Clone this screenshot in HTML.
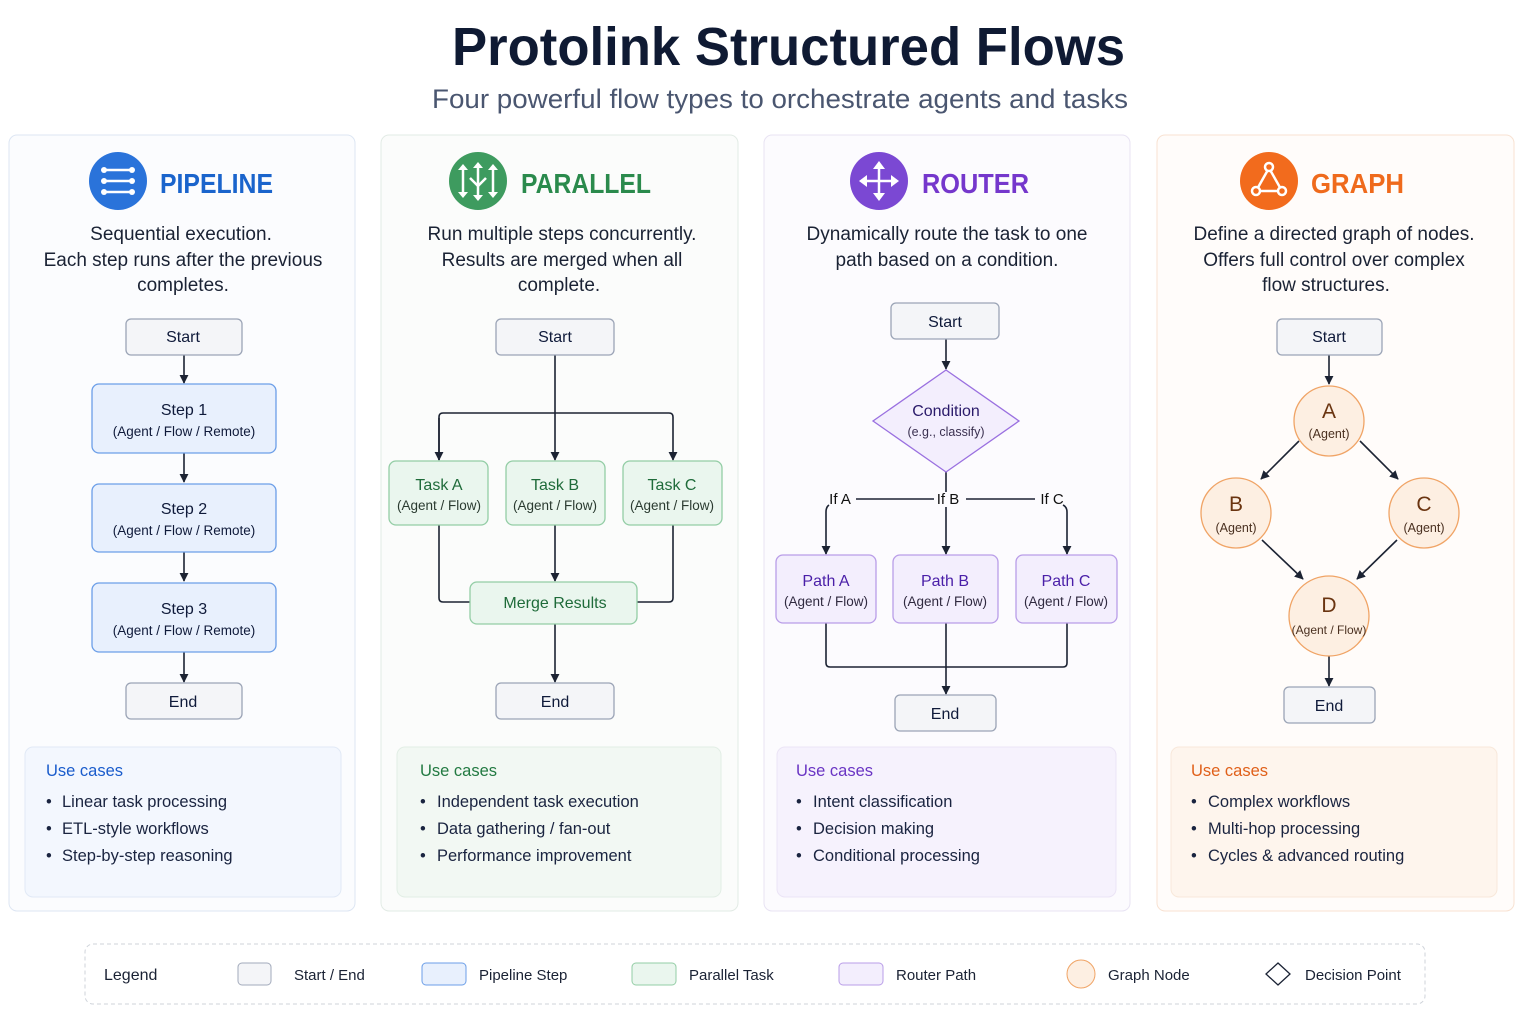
<!DOCTYPE html>
<html><head><meta charset="utf-8"><style>
html,body{margin:0;padding:0;background:#fff;}
svg{display:block;font-family:"Liberation Sans",sans-serif;}
</style></head><body>
<svg width="1536" height="1024" viewBox="0 0 1536 1024" xmlns="http://www.w3.org/2000/svg">
<defs>
<marker id="ar" viewBox="0 0 10 10" refX="9" refY="5" markerWidth="9" markerHeight="9" markerUnits="userSpaceOnUse" orient="auto"><path d="M0,0 L10,5 L0,10 z" fill="#1c2333"/></marker>
</defs>
<rect width="1536" height="1024" fill="#fff"/>
<text x="452" y="65" font-size="54" font-weight="bold" fill="#0f1a33" textLength="673" lengthAdjust="spacingAndGlyphs">Protolink Structured Flows</text>
<text x="432" y="108" font-size="27" fill="#4a5670" textLength="696" lengthAdjust="spacingAndGlyphs">Four powerful flow types to orchestrate agents and tasks</text>

<!-- panels -->
<rect x="9" y="135" width="346" height="776" rx="8" fill="#fbfcfe" stroke="#dde6f3"/>
<rect x="381" y="135" width="357" height="776" rx="8" fill="#fbfcfb" stroke="#e2ebe5"/>
<rect x="764" y="135" width="366" height="776" rx="8" fill="#fcfbfe" stroke="#e8e3f3"/>
<rect x="1157" y="135" width="357" height="776" rx="8" fill="#fffcfa" stroke="#f8e2d2"/>

<!-- headers -->
<circle cx="118" cy="181" r="29" fill="#2a73da"/>
<g stroke="#fff" stroke-width="2.5" stroke-linecap="round"><line x1="105" y1="170" x2="131" y2="170"/><line x1="105" y1="181" x2="131" y2="181"/><line x1="105" y1="192" x2="131" y2="192"/></g>
<g fill="#fff"><circle cx="104" cy="170" r="3"/><circle cx="132" cy="170" r="3"/><circle cx="104" cy="181" r="3"/><circle cx="132" cy="181" r="3"/><circle cx="104" cy="192" r="3"/><circle cx="132" cy="192" r="3"/></g>
<text x="160" y="193" font-size="28" font-weight="bold" fill="#1a64cc" textLength="113" lengthAdjust="spacingAndGlyphs">PIPELINE</text>

<circle cx="478" cy="181" r="29" fill="#3e9b5f"/>
<g stroke="#fff" stroke-width="2.5" fill="none"><line x1="463" y1="167" x2="463" y2="195"/><line x1="478" y1="165" x2="478" y2="198"/><line x1="493" y1="167" x2="493" y2="195"/><path d="M470,178 L478,186 L486,178"/></g>
<g fill="#fff"><path d="M458,170 L463,164 L468,170z"/><path d="M458,192 L463,198 L468,192z"/><path d="M473,168 L478,162 L483,168z"/><path d="M473,195 L478,201 L483,195z"/><path d="M488,170 L493,164 L498,170z"/><path d="M488,192 L493,198 L498,192z"/></g>
<text x="521" y="193" font-size="28" font-weight="bold" fill="#2a8a4c" textLength="130" lengthAdjust="spacingAndGlyphs">PARALLEL</text>

<circle cx="879" cy="181" r="29" fill="#7b48d3"/>
<g stroke="#fff" stroke-width="2.5"><line x1="879" y1="166" x2="879" y2="196"/><line x1="864" y1="181" x2="894" y2="181"/></g>
<g fill="#fff"><path d="M873,169 L879,161 L885,169z"/><path d="M873,193 L879,201 L885,193z"/><path d="M867,175 L859,181 L867,187z"/><path d="M891,175 L899,181 L891,187z"/></g>
<text x="922" y="193" font-size="28" font-weight="bold" fill="#7537cc" textLength="107" lengthAdjust="spacingAndGlyphs">ROUTER</text>

<circle cx="1269" cy="181" r="29" fill="#f26b1d"/>
<g stroke="#fff" stroke-width="2.5" fill="none"><path d="M1269,168 L1256,191 L1282,191 Z"/></g>
<g fill="#f26b1d" stroke="#fff" stroke-width="2.5"><circle cx="1269" cy="167" r="4"/><circle cx="1256" cy="191" r="4"/><circle cx="1282" cy="191" r="4"/></g>
<text x="1311" y="193" font-size="28" font-weight="bold" fill="#ef6a1c" textLength="93" lengthAdjust="spacingAndGlyphs">GRAPH</text>

<!-- descriptions -->
<g font-size="19" fill="#1a2234" text-anchor="middle">
<text x="181" y="240">Sequential execution.</text>
<text x="183" y="266">Each step runs after the previous</text>
<text x="183" y="291">completes.</text>
<text x="562" y="240">Run multiple steps concurrently.</text>
<text x="562" y="266">Results are merged when all</text>
<text x="559" y="291">complete.</text>
<text x="947" y="240">Dynamically route the task to one</text>
<text x="947" y="266">path based on a condition.</text>
<text x="1334" y="240">Define a directed graph of nodes.</text>
<text x="1334" y="266">Offers full control over complex</text>
<text x="1326" y="291">flow structures.</text>
</g>

<!-- Pipeline -->
<g stroke="#1c2333" stroke-width="1.6" fill="none" marker-end="url(#ar)">
<line x1="184" y1="355" x2="184" y2="383"/>
<line x1="184" y1="453" x2="184" y2="482"/>
<line x1="184" y1="552" x2="184" y2="581"/>
<line x1="184" y1="652" x2="184" y2="682"/>
</g>
<g stroke-width="1.3">
<rect x="126" y="319" width="116" height="36" rx="5" fill="#f4f5f8" stroke="#9ba4b6"/>
<rect x="92" y="384" width="184" height="69" rx="7" fill="#e8f0fd" stroke="#6b9ee8"/>
<rect x="92" y="484" width="184" height="68" rx="7" fill="#e8f0fd" stroke="#6b9ee8"/>
<rect x="92" y="583" width="184" height="69" rx="7" fill="#e8f0fd" stroke="#6b9ee8"/>
<rect x="126" y="683" width="116" height="36" rx="5" fill="#f4f5f8" stroke="#9ba4b6"/>
</g>
<g text-anchor="middle" fill="#0f1a3a">
<text x="183" y="342" font-size="16">Start</text>
<text x="184" y="415" font-size="16">Step 1</text><text x="184" y="436" font-size="13.5">(Agent / Flow / Remote)</text>
<text x="184" y="514" font-size="16">Step 2</text><text x="184" y="535" font-size="13.5">(Agent / Flow / Remote)</text>
<text x="184" y="614" font-size="16">Step 3</text><text x="184" y="635" font-size="13.5">(Agent / Flow / Remote)</text>
<text x="183" y="707" font-size="16">End</text>
</g>

<!-- Parallel -->
<g stroke="#1c2333" stroke-width="1.6" fill="none">
<line x1="555" y1="355" x2="555" y2="413"/>
<path d="M439,460 L439,417 Q439,413 443,413 L669,413 Q673,413 673,417 L673,460" marker-end="url(#ar)"/>
<line x1="439" y1="418" x2="439" y2="460" marker-end="url(#ar)"/>
<line x1="555" y1="413" x2="555" y2="460" marker-end="url(#ar)"/>
<path d="M439,525 L439,598 Q439,602 443,602 L470,602"/>
<path d="M673,525 L673,598 Q673,602 669,602 L637,602"/>
<line x1="555" y1="525" x2="555" y2="581" marker-end="url(#ar)"/>
<line x1="555" y1="624" x2="555" y2="682" marker-end="url(#ar)"/>
</g>
<g stroke-width="1.3">
<rect x="496" y="319" width="118" height="36" rx="5" fill="#f4f5f8" stroke="#9ba4b6"/>
<rect x="389" y="461" width="99" height="64" rx="7" fill="#eaf6ee" stroke="#93cda5"/>
<rect x="506" y="461" width="99" height="64" rx="7" fill="#eaf6ee" stroke="#93cda5"/>
<rect x="623" y="461" width="99" height="64" rx="7" fill="#eaf6ee" stroke="#93cda5"/>
<rect x="470" y="582" width="167" height="42" rx="7" fill="#eaf6ee" stroke="#93cda5"/>
<rect x="496" y="683" width="118" height="36" rx="5" fill="#f4f5f8" stroke="#9ba4b6"/>
</g>
<g text-anchor="middle">
<text x="555" y="342" font-size="16" fill="#0f1a3a">Start</text>
<text x="439" y="490" font-size="16" fill="#1f6b3a">Task A</text><text x="439" y="510" font-size="13.5" fill="#2a3a30">(Agent / Flow)</text>
<text x="555" y="490" font-size="16" fill="#1f6b3a">Task B</text><text x="555" y="510" font-size="13.5" fill="#2a3a30">(Agent / Flow)</text>
<text x="672" y="490" font-size="16" fill="#1f6b3a">Task C</text><text x="672" y="510" font-size="13.5" fill="#2a3a30">(Agent / Flow)</text>
<text x="555" y="608" font-size="16" fill="#1f6b3a">Merge Results</text>
<text x="555" y="707" font-size="16" fill="#0f1a3a">End</text>
</g>

<!-- Router -->
<g stroke="#1c2333" stroke-width="1.6" fill="none">
<line x1="946" y1="339" x2="946" y2="369" marker-end="url(#ar)"/>
<line x1="946" y1="472" x2="946" y2="492"/>
<line x1="856" y1="499" x2="934" y2="499"/>
<line x1="966" y1="499" x2="1035" y2="499"/>
<path d="M829,505 Q826,507 826,512 L826,554" marker-end="url(#ar)"/>
<line x1="946" y1="507" x2="946" y2="554" marker-end="url(#ar)"/>
<path d="M1063,505 Q1067,507 1067,512 L1067,554" marker-end="url(#ar)"/>
<path d="M826,623 L826,663 Q826,667 830,667 L1063,667 Q1067,667 1067,663 L1067,623"/>
<line x1="946" y1="623" x2="946" y2="694" marker-end="url(#ar)"/>
</g>
<g stroke-width="1.3">
<rect x="891" y="303" width="108" height="36" rx="5" fill="#f4f5f8" stroke="#9ba4b6"/>
<polygon points="946,370 1019,421 946,472 873,421" fill="#f3eefd" stroke="#9a70e0"/>
<rect x="776" y="555" width="100" height="68" rx="7" fill="#f3eefd" stroke="#b99de8"/>
<rect x="893" y="555" width="105" height="68" rx="7" fill="#f3eefd" stroke="#b99de8"/>
<rect x="1016" y="555" width="101" height="68" rx="7" fill="#f3eefd" stroke="#b99de8"/>
<rect x="895" y="695" width="101" height="36" rx="5" fill="#f4f5f8" stroke="#9ba4b6"/>
</g>
<g text-anchor="middle">
<text x="945" y="327" font-size="16" fill="#0f1a3a">Start</text>
<text x="946" y="416" font-size="16" fill="#2a1a6a">Condition</text><text x="946" y="436" font-size="12.5" fill="#3a3050">(e.g., classify)</text>
<text x="840" y="504" font-size="15" fill="#111">If A</text>
<text x="948" y="504" font-size="15" fill="#111">If B</text>
<text x="1052" y="504" font-size="15" fill="#111">If C</text>
<text x="826" y="586" font-size="16" fill="#4a1fa8">Path A</text><text x="826" y="606" font-size="13.5" fill="#302a40">(Agent / Flow)</text>
<text x="945" y="586" font-size="16" fill="#4a1fa8">Path B</text><text x="945" y="606" font-size="13.5" fill="#302a40">(Agent / Flow)</text>
<text x="1066" y="586" font-size="16" fill="#4a1fa8">Path C</text><text x="1066" y="606" font-size="13.5" fill="#302a40">(Agent / Flow)</text>
<text x="945" y="719" font-size="16" fill="#0f1a3a">End</text>
</g>

<!-- Graph -->
<g stroke="#1c2333" stroke-width="1.6" fill="none" marker-end="url(#ar)">
<line x1="1329" y1="355" x2="1329" y2="384"/>
<line x1="1299" y1="441" x2="1261" y2="479"/>
<line x1="1360" y1="441" x2="1398" y2="479"/>
<line x1="1262" y1="540" x2="1303" y2="579"/>
<line x1="1397" y1="540" x2="1357" y2="579"/>
<line x1="1329" y1="655" x2="1329" y2="686"/>
</g>
<g stroke-width="1.3">
<rect x="1277" y="319" width="105" height="36" rx="5" fill="#f4f5f8" stroke="#9ba4b6"/>
<circle cx="1329" cy="421" r="35" fill="#fdefe2" stroke="#f0a466"/>
<circle cx="1236" cy="513" r="35" fill="#fdefe2" stroke="#f0a466"/>
<circle cx="1424" cy="513" r="35" fill="#fdefe2" stroke="#f0a466"/>
<circle cx="1329" cy="616" r="40" fill="#fdefe2" stroke="#f0a466"/>
<rect x="1284" y="687" width="91" height="36" rx="5" fill="#f4f5f8" stroke="#9ba4b6"/>
</g>
<g text-anchor="middle">
<text x="1329" y="342" font-size="16" fill="#0f1a3a">Start</text>
<text x="1329" y="418" font-size="21" fill="#6a3410">A</text><text x="1329" y="438" font-size="12.5" fill="#4a3020">(Agent)</text>
<text x="1236" y="511" font-size="21" fill="#6a3410">B</text><text x="1236" y="532" font-size="12.5" fill="#4a3020">(Agent)</text>
<text x="1424" y="511" font-size="21" fill="#6a3410">C</text><text x="1424" y="532" font-size="12.5" fill="#4a3020">(Agent)</text>
<text x="1329" y="612" font-size="21" fill="#6a3410">D</text><text x="1329" y="634" font-size="12" fill="#4a3020">(Agent / Flow)</text>
<text x="1329" y="711" font-size="16" fill="#0f1a3a">End</text>
</g>

<!-- use cases -->
<rect x="25" y="747" width="316" height="150" rx="8" fill="#f3f7fe" stroke="#e1e9f6"/>
<rect x="397" y="747" width="324" height="150" rx="8" fill="#f2f8f3" stroke="#e2eee5"/>
<rect x="777" y="747" width="339" height="150" rx="8" fill="#f6f2fd" stroke="#ebe4f6"/>
<rect x="1171" y="747" width="326" height="150" rx="8" fill="#fef5ed" stroke="#f8e8da"/>
<g font-size="16.5">
<text x="46" y="776" fill="#1a5ccc">Use cases</text>
<text x="420" y="776" fill="#237a42">Use cases</text>
<text x="796" y="776" fill="#6a35c4">Use cases</text>
<text x="1191" y="776" fill="#e0601a">Use cases</text>
</g>
<g font-size="16.5" fill="#1a2440">
<text x="46" y="807">•</text><text x="62" y="807">Linear task processing</text>
<text x="46" y="834">•</text><text x="62" y="834">ETL-style workflows</text>
<text x="46" y="861">•</text><text x="62" y="861">Step-by-step reasoning</text>
<text x="420" y="807">•</text><text x="437" y="807">Independent task execution</text>
<text x="420" y="834">•</text><text x="437" y="834">Data gathering / fan-out</text>
<text x="420" y="861">•</text><text x="437" y="861">Performance improvement</text>
<text x="796" y="807">•</text><text x="813" y="807">Intent classification</text>
<text x="796" y="834">•</text><text x="813" y="834">Decision making</text>
<text x="796" y="861">•</text><text x="813" y="861">Conditional processing</text>
<text x="1191" y="807">•</text><text x="1208" y="807">Complex workflows</text>
<text x="1191" y="834">•</text><text x="1208" y="834">Multi-hop processing</text>
<text x="1191" y="861">•</text><text x="1208" y="861">Cycles &amp; advanced routing</text>
</g>

<!-- legend -->
<rect x="85" y="944" width="1340" height="60" rx="8" fill="#fff" stroke="#cfd3da" stroke-dasharray="4,3"/>
<g font-size="15" fill="#1a2234">
<text x="104" y="980" font-size="16">Legend</text>
<rect x="238" y="963" width="33" height="22" rx="4" fill="#f4f5f8" stroke="#a2aabb"/><text x="294" y="980">Start / End</text>
<rect x="422" y="963" width="44" height="22" rx="4" fill="#e8f0fd" stroke="#6b9ee8"/><text x="479" y="980">Pipeline Step</text>
<rect x="632" y="963" width="44" height="22" rx="4" fill="#eaf6ee" stroke="#93cda5"/><text x="689" y="980">Parallel Task</text>
<rect x="839" y="963" width="44" height="22" rx="4" fill="#f3eefd" stroke="#b99de8"/><text x="896" y="980">Router Path</text>
<ellipse cx="1081" cy="974" rx="14" ry="14" fill="#fdefe2" stroke="#f0a466"/><text x="1108" y="980">Graph Node</text>
<polygon points="1278,963 1290,974 1278,985 1266,974" fill="#fff" stroke="#1a2234" stroke-width="1.3"/><text x="1305" y="980">Decision Point</text>
</g>
</svg>
</body></html>
